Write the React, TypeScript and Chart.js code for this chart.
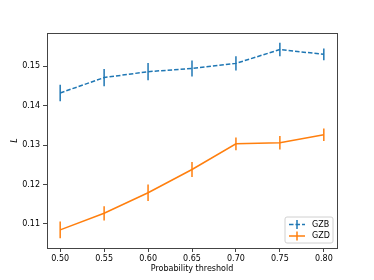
import React, { useEffect, useRef } from 'react';
import { Chart, registerables } from 'chart.js';

Chart.register(...registerables);

const thresholds = [0.5, 0.55, 0.6, 0.65, 0.7, 0.75, 0.8];
const gzbValues = [0.1432, 0.1471, 0.1486, 0.1494, 0.1507, 0.1542, 0.153];
const gzbErrors = [0.0021, 0.0022, 0.0022, 0.002, 0.0018, 0.0017, 0.0015];
const gzdValues = [0.1085, 0.1127, 0.1179, 0.1238, 0.1303, 0.1306, 0.1326];
const gzdErrors = [0.0021, 0.0018, 0.0021, 0.0019, 0.0016, 0.0017, 0.0016];
const xTickValues = [0.5, 0.55, 0.6, 0.65, 0.7, 0.75, 0.8];
const yTickValues = [0.11, 0.12, 0.13, 0.14, 0.15];
const seriesLabels = ['GZB', 'GZD'];
const seriesColors = ['#1f77b4', '#ff7f0e'];

const FONT = 'DejaVu Sans';
const AXIS_COLOR = '#444';

const errorBarPlugin = {
  id: 'errorBars',
  afterDatasetsDraw(chart: any) {
    const ctx = chart.ctx;
    const xs = chart.scales.x;
    const ys = chart.scales.y;
    chart.data.datasets.forEach((ds: any, i: number) => {
      const meta = chart.getDatasetMeta(i);
      if (meta.hidden) return;
      ctx.save();
      ctx.strokeStyle = ds.borderColor;
      ctx.lineWidth = 1.5;
      ctx.setLineDash([]);
      ds.data.forEach((p: any, j: number) => {
        const e = ds.errors[j];
        const x = xs.getPixelForValue(p.x);
        const y1 = ys.getPixelForValue(p.y + e);
        const y2 = ys.getPixelForValue(p.y - e);
        ctx.beginPath();
        ctx.moveTo(x, y1);
        ctx.lineTo(x, y2);
        ctx.stroke();
      });
      ctx.restore();
    });
  },
};

const framePlugin = {
  id: 'frame',
  afterDraw(chart: any) {
    const { ctx, chartArea: a } = chart;
    ctx.save();
    ctx.strokeStyle = AXIS_COLOR;
    ctx.lineWidth = 1;
    ctx.strokeRect(Math.round(a.left) + 0.5, Math.round(a.top) + 0.5, Math.round(a.right - a.left), Math.round(a.bottom - a.top));
    ctx.restore();
  },
};

const legendPlugin = {
  id: 'mplLegend',
  afterDraw(chart: any) {
    const { ctx, chartArea: a } = chart;
    const w = 48;
    const h = 26;
    const right = a.right - 4;
    const bottom = a.bottom - 5;
    const left = right - w;
    const top = bottom - h;
    ctx.save();
    ctx.fillStyle = 'rgba(255,255,255,0.8)';
    ctx.strokeStyle = '#d0d0d0';
    ctx.lineWidth = 1;
    ctx.beginPath();
    const r = 2;
    ctx.moveTo(left + r, top);
    ctx.lineTo(right - r, top);
    ctx.quadraticCurveTo(right, top, right, top + r);
    ctx.lineTo(right, bottom - r);
    ctx.quadraticCurveTo(right, bottom, right - r, bottom);
    ctx.lineTo(left + r, bottom);
    ctx.quadraticCurveTo(left, bottom, left, bottom - r);
    ctx.lineTo(left, top + r);
    ctx.quadraticCurveTo(left, top, left + r, top);
    ctx.closePath();
    ctx.fill();
    ctx.stroke();
    chart.data.datasets.forEach((ds: any, i: number) => {
      const y = top + 7.5 + i * 11.5;
      const x0 = left + 4;
      const x1 = left + 20;
      ctx.strokeStyle = ds.borderColor;
      ctx.lineWidth = 1.5;
      ctx.setLineDash(ds.borderDash || []);
      ctx.beginPath();
      ctx.moveTo(x0, y);
      ctx.lineTo(x1, y);
      ctx.stroke();
      ctx.setLineDash([]);
      ctx.beginPath();
      ctx.moveTo((x0 + x1) / 2, y - 4.5);
      ctx.lineTo((x0 + x1) / 2, y + 4.5);
      ctx.stroke();
      ctx.fillStyle = '#000';
      ctx.font = `8px "${FONT}"`;
      ctx.textBaseline = 'middle';
      ctx.textAlign = 'left';
      ctx.fillText(ds.label, left + 27, y);
    });
    ctx.restore();
  },
};

export default function App() {
  const ref = useRef<HTMLCanvasElement>(null);
  useEffect(() => {
    if (!ref.current) return;
    const chart = new Chart(ref.current, {
      type: 'line',
      data: {
        datasets: [
          {
            label: seriesLabels[0],
            data: thresholds.map((x, i) => ({ x, y: gzbValues[i] })),
            errors: gzbErrors,
            borderColor: seriesColors[0],
            backgroundColor: seriesColors[0],
            borderWidth: 1.5,
            borderDash: [4.5, 2],
            pointRadius: 0,
            tension: 0,
            fill: false,
          } as any,
          {
            label: seriesLabels[1],
            data: thresholds.map((x, i) => ({ x, y: gzdValues[i] })),
            errors: gzdErrors,
            borderColor: seriesColors[1],
            backgroundColor: seriesColors[1],
            borderWidth: 1.5,
            pointRadius: 0,
            tension: 0,
            fill: false,
          } as any,
        ],
      },
      options: {
        animation: false,
        responsive: false,
        devicePixelRatio: 1,
        layout: { padding: { top: 33, right: 37, left: 0, bottom: 0 } },
        plugins: { legend: { display: false }, tooltip: { enabled: false } },
        scales: {
          x: {
            type: 'linear',
            min: 0.485,
            max: 0.815,
            afterBuildTicks: (s: any) => {
              s.ticks = xTickValues.map((v) => ({ value: v }));
            },
            afterFit: (s: any) => {
              s.height = 32;
            },
            ticks: {
              callback: (v: any) => Number(v).toFixed(2),
              color: '#000',
              font: { family: FONT, size: 8 },
              padding: 2,
              maxRotation: 0,
              autoSkip: false,
            },
            grid: { drawOnChartArea: false, drawTicks: true, tickLength: 4, color: AXIS_COLOR, tickWidth: 1 },
            border: { display: false },
            title: {
              display: true,
              text: 'Probability threshold',
              color: '#000',
              font: { family: FONT, size: 8 },
              padding: { top: 0, bottom: 6 },
            },
          },
          y: {
            type: 'linear',
            min: 0.1039,
            max: 0.1584,
            afterBuildTicks: (s: any) => {
              s.ticks = yTickValues.map((v) => ({ value: v }));
            },
            afterFit: (s: any) => {
              s.width = 47;
            },
            ticks: {
              callback: (v: any) => Number(v).toFixed(2),
              color: '#000',
              font: { family: FONT, size: 8 },
              padding: 3,
              autoSkip: false,
            },
            grid: { drawOnChartArea: false, drawTicks: true, tickLength: 4, color: AXIS_COLOR, tickWidth: 1 },
            border: { display: false },
            title: {
              display: true,
              text: 'L',
              color: '#000',
              font: { family: FONT, size: 8, style: 'italic' },
              padding: { top: 10, bottom: 0 },
            },
          },
        },
      },
      plugins: [errorBarPlugin, framePlugin, legendPlugin],
    } as any);
    return () => chart.destroy();
  }, []);
  return (
    <div style={{ position: 'absolute', left: 0, top: 0, width: 374, height: 280, background: '#fff' }}>
      <canvas ref={ref} width={374} height={280} />
    </div>
  );
}
